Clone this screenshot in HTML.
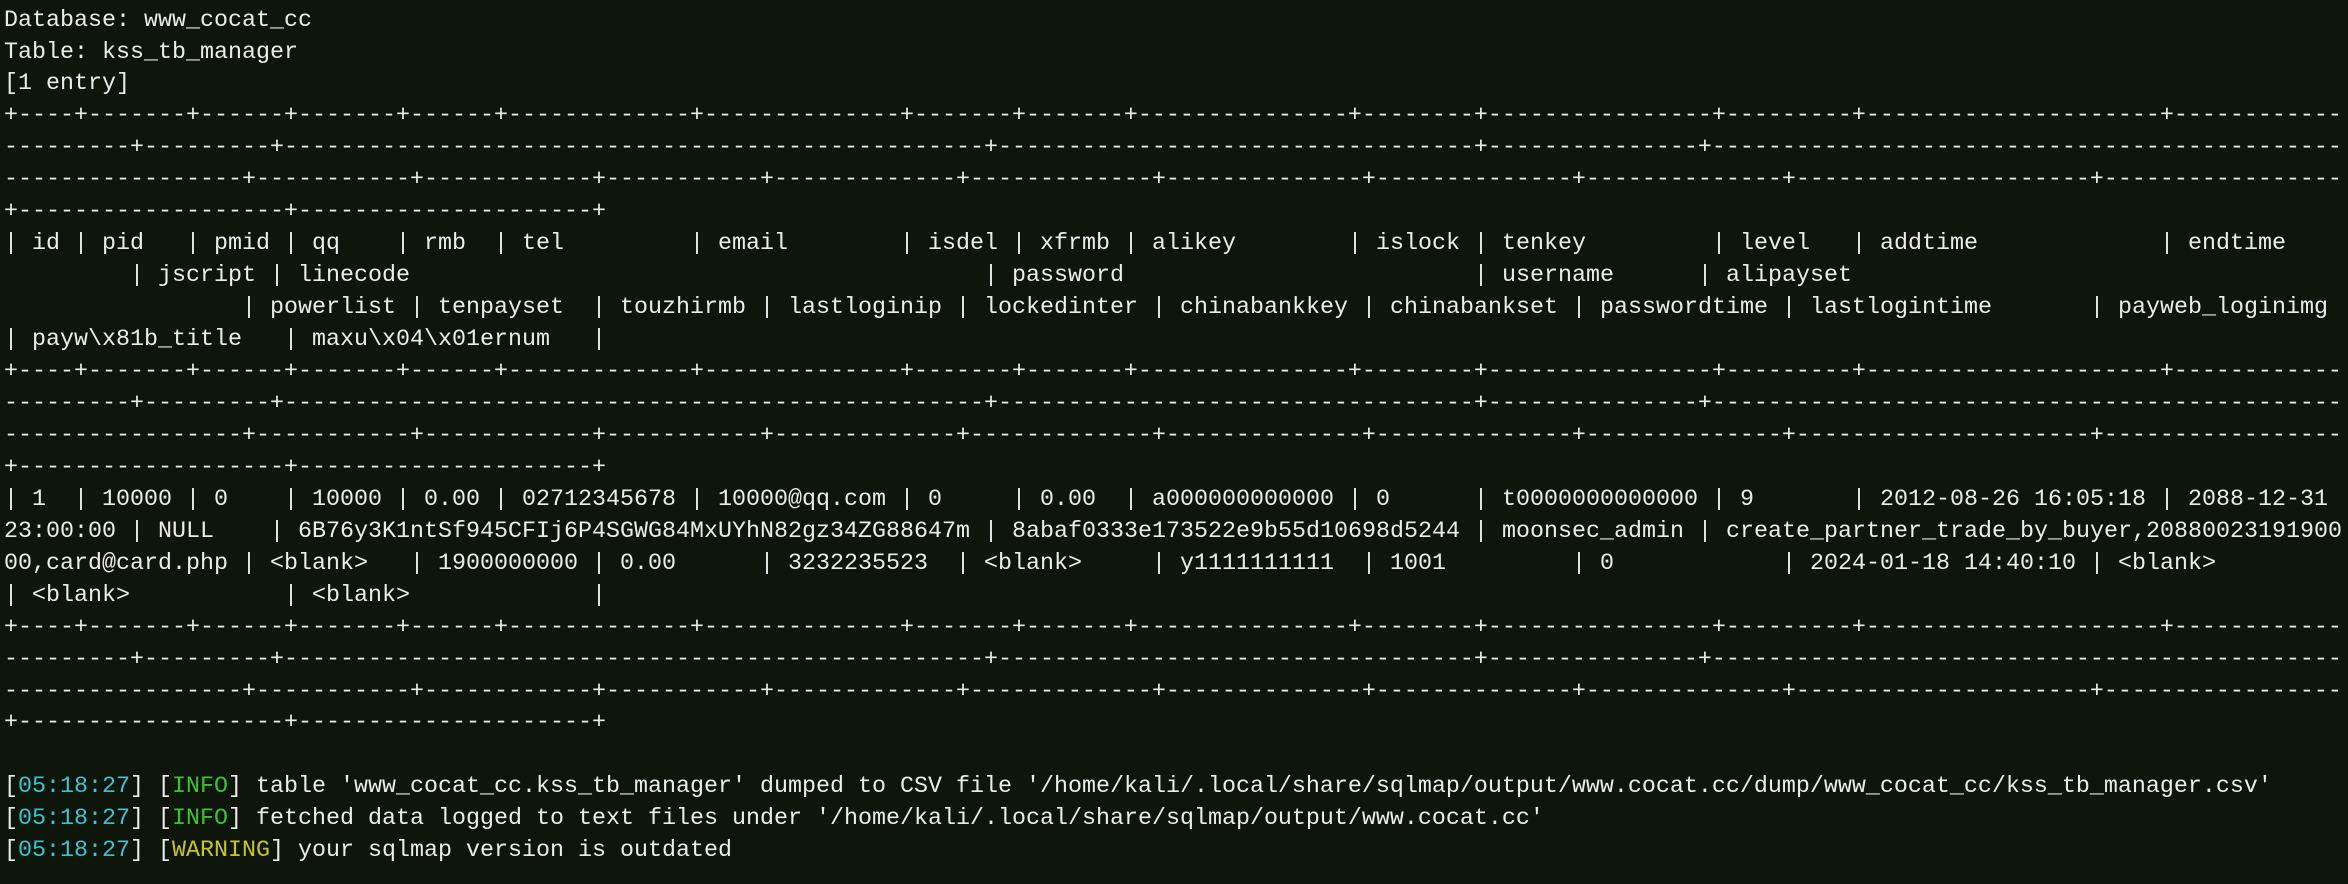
<!DOCTYPE html>
<html><head><meta charset="utf-8"><style>
html,body{margin:0;padding:0;background:#0e160b;}
body{width:2348px;height:884px;overflow:hidden;position:relative;font-family:"Liberation Mono",monospace;font-size:23.33px;color:#ececec;}
.l{position:absolute;left:4px;height:32px;line-height:32px;white-space:pre;width:2344px;}
.l span{position:absolute;top:0;white-space:pre;}
.c{color:#3cc3d2}.g{color:#38c431}.y{color:#c6c52a}
</style></head><body>
<div class="l" style="top:4.5px">Database: www_cocat_cc</div>
<div class="l" style="top:36.5px">Table: kss_tb_manager</div>
<div class="l" style="top:68.4px">[1 entry]</div>

<div class="l" style="top:100.4px">+----+-------+------+-------+------+-------------+--------------+-------+-------+---------------+--------+----------------+---------+---------------------+------------</div>
<div class="l" style="top:132.3px">---------+---------+--------------------------------------------------+----------------------------------+---------------+---------------------------------------------</div>
<div class="l" style="top:164.3px">-----------------+-----------+------------+-----------+-------------+-------------+--------------+--------------+--------------+---------------------+-----------------</div>
<div class="l" style="top:196.2px">+-------------------+---------------------+</div>

<div class="l" style="top:228.2px"><span style="left:0">| id</span><span style="left:70px">| pid</span><span style="left:182px">| pmid</span><span style="left:280px">| qq</span><span style="left:392px">| rmb</span><span style="left:490px">| tel</span><span style="left:686px">| email</span><span style="left:896px">| isdel</span><span style="left:1008px">| xfrmb</span><span style="left:1120px">| alikey</span><span style="left:1344px">| islock</span><span style="left:1470px">| tenkey</span><span style="left:1708px">| level</span><span style="left:1848px">| addtime</span><span style="left:2156px">| endtime</span></div>
<div class="l" style="top:260.1px"><span style="left:126px">| jscript</span><span style="left:266px">| linecode</span><span style="left:980px">| password</span><span style="left:1470px">| username</span><span style="left:1694px">| alipayset</span></div>
<div class="l" style="top:292.1px"><span style="left:238px">| powerlist</span><span style="left:406px">| tenpayset</span><span style="left:588px">| touzhirmb</span><span style="left:756px">| lastloginip</span><span style="left:952px">| lockedinter</span><span style="left:1148px">| chinabankkey</span><span style="left:1358px">| chinabankset</span><span style="left:1568px">| passwordtime</span><span style="left:1778px">| lastlogintime</span><span style="left:2086px">| payweb_loginimg</span></div>
<div class="l" style="top:324px"><span style="left:0">| payw\x81b_title</span><span style="left:280px">| maxu\x04\x01ernum</span><span style="left:588px">|</span></div>

<div class="l" style="top:356px">+----+-------+------+-------+------+-------------+--------------+-------+-------+---------------+--------+----------------+---------+---------------------+------------</div>
<div class="l" style="top:387.9px">---------+---------+--------------------------------------------------+----------------------------------+---------------+---------------------------------------------</div>
<div class="l" style="top:419.9px">-----------------+-----------+------------+-----------+-------------+-------------+--------------+--------------+--------------+---------------------+-----------------</div>
<div class="l" style="top:451.8px">+-------------------+---------------------+</div>

<div class="l" style="top:483.8px"><span style="left:0">| 1</span><span style="left:70px">| 10000</span><span style="left:182px">| 0</span><span style="left:280px">| 10000</span><span style="left:392px">| 0.00</span><span style="left:490px">| 02712345678</span><span style="left:686px">| 10000@qq.com</span><span style="left:896px">| 0</span><span style="left:1008px">| 0.00</span><span style="left:1120px">| a000000000000</span><span style="left:1344px">| 0</span><span style="left:1470px">| t0000000000000</span><span style="left:1708px">| 9</span><span style="left:1848px">| 2012-08-26 16:05:18</span><span style="left:2156px">| 2088-12-31</span></div>
<div class="l" style="top:515.7px"><span style="left:0">23:00:00</span><span style="left:126px">| NULL</span><span style="left:266px">| 6B76y3K1ntSf945CFIj6P4SGWG84MxUYhN82gz34ZG88647m</span><span style="left:980px">| 8abaf0333e173522e9b55d10698d5244</span><span style="left:1470px">| moonsec_admin</span><span style="left:1694px">| create_partner_trade_by_buyer,20880023191900</span></div>
<div class="l" style="top:547.7px"><span style="left:0">00,card@card.php</span><span style="left:238px">| &lt;blank&gt;</span><span style="left:406px">| 1900000000</span><span style="left:588px">| 0.00</span><span style="left:756px">| 3232235523</span><span style="left:952px">| &lt;blank&gt;</span><span style="left:1148px">| y1111111111</span><span style="left:1358px">| 1001</span><span style="left:1568px">| 0</span><span style="left:1778px">| 2024-01-18 14:40:10</span><span style="left:2086px">| &lt;blank&gt;</span></div>
<div class="l" style="top:579.6px"><span style="left:0">| &lt;blank&gt;</span><span style="left:280px">| &lt;blank&gt;</span><span style="left:588px">|</span></div>

<div class="l" style="top:611.6px">+----+-------+------+-------+------+-------------+--------------+-------+-------+---------------+--------+----------------+---------+---------------------+------------</div>
<div class="l" style="top:643.5px">---------+---------+--------------------------------------------------+----------------------------------+---------------+---------------------------------------------</div>
<div class="l" style="top:675.5px">-----------------+-----------+------------+-----------+-------------+-------------+--------------+--------------+--------------+---------------------+-----------------</div>
<div class="l" style="top:707.4px">+-------------------+---------------------+</div>

<div class="l" style="top:771.3px">[<span style="position:static" class="c">05:18:27</span>] [<span style="position:static" class="g">INFO</span>] table 'www_cocat_cc.kss_tb_manager' dumped to CSV file '/home/kali/.local/share/sqlmap/output/www.cocat.cc/dump/www_cocat_cc/kss_tb_manager.csv'</div>
<div class="l" style="top:803.3px">[<span style="position:static" class="c">05:18:27</span>] [<span style="position:static" class="g">INFO</span>] fetched data logged to text files under '/home/kali/.local/share/sqlmap/output/www.cocat.cc'</div>
<div class="l" style="top:835.2px">[<span style="position:static" class="c">05:18:27</span>] [<span style="position:static" class="y">WARNING</span>] your sqlmap version is outdated</div>
</body></html>
